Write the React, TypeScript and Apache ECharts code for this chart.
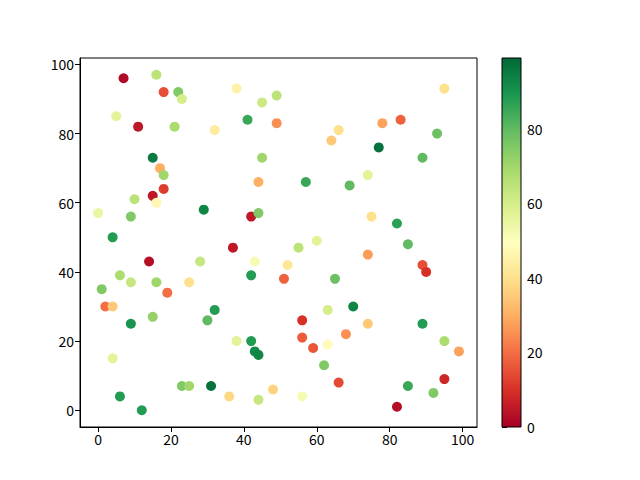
import React, { useEffect, useRef } from "react";
import * as echarts from "echarts";

const xs = [7,16,18,22,23,38,45,49,5,11,21,32,41,49,15,45,17,18,44,18,15,10,16,0,9,29,42,44,4,
  95,66,64,78,83,93,77,89,57,69,74,75,82,60,85,
  37,14,28,43,52,6,9,16,25,42,51,1,19,2,4,32,30,9,15,38,42,43,44,4,23,25,31,6,12,36,44,48,
  55,74,89,90,65,63,70,56,74,89,56,68,59,63,95,99,62,66,85,95,92,82,56];
const ys = [96,97,92,92,90,93,89,91,85,82,82,81,84,83,73,73,70,68,66,64,62,61,60,57,56,58,56,57,50,
  93,81,78,83,84,80,76,73,66,65,68,56,54,49,48,
  47,43,43,43,42,39,37,37,37,39,38,35,34,30,30,29,26,25,27,20,20,17,16,15,7,7,7,4,0,4,3,6,
  47,45,42,40,38,29,30,26,25,25,21,22,18,19,20,17,13,8,7,9,5,1,4];
const cs = [2,65,15,75,60,45,62,65,57,5,68,43,85,25,95,70,30,70,30,12,5,65,47,55,75,93,5,75,88,
  40,40,35,28,18,78,97,80,85,80,57,40,87,57,80,
  5,3,63,52,42,68,63,70,40,88,18,75,20,20,35,88,80,90,72,57,88,92,93,57,75,70,97,88,88,38,63,37,
  65,27,15,10,78,60,93,10,35,88,17,25,16,48,68,28,75,14,85,8,75,3,52];

const xTicks = [0, 20, 40, 60, 80, 100];
const yTicks = [0, 20, 40, 60, 80, 100];
const cTicks = [0, 20, 40, 60, 80];
const cMin = 0;
const cMax = 99;

const RdYlGn = ["#a50026","#d73027","#f46d43","#fdae61","#fee08b","#ffffbf","#d9ef8b","#a6d96a","#66bd63","#1a9850","#006837"];

const font = "Noto Sans CJK SC";

export default function App() {
  const ref = useRef<HTMLDivElement>(null);
  useEffect(() => {
    const chart = echarts.init(ref.current!, null, { renderer: "svg" });
    const stops = RdYlGn.map((c, i) => ({ offset: i / (RdYlGn.length - 1), color: c }));
    const axisCommon = {
      splitLine: { show: false },
      axisLine: { show: true, onZero: false, lineStyle: { color: "#000", width: 1 } },
    };
    chart.setOption({
      animation: false,
      backgroundColor: "#fff",
      grid: [
        { left: 80, top: 58, width: 397, height: 369, show: true, borderColor: "#000", borderWidth: 1, backgroundColor: "transparent" },
        { left: 502, top: 58, width: 19, height: 369, show: false },
      ],
      xAxis: [
        {
          gridIndex: 0, type: "value", min: -4.95, max: 103.95, ...axisCommon,
          axisTick: { show: true, length: 5, customValues: xTicks, lineStyle: { color: "#000" } },
          axisLabel: { customValues: xTicks, color: "#000", fontSize: 14, fontFamily: font, margin: 5 },
        },
        { gridIndex: 1, type: "value", min: 0, max: 1, show: false },
      ],
      yAxis: [
        {
          gridIndex: 0, type: "value", min: -4.85, max: 101.85, ...axisCommon,
          axisTick: { show: true, length: 5, customValues: yTicks, lineStyle: { color: "#000" } },
          axisLabel: { customValues: yTicks, color: "#000", fontSize: 14, fontFamily: font, margin: 6 },
        },
        {
          gridIndex: 1, type: "value", min: cMin, max: cMax, position: "right",
          splitLine: { show: false },
          axisLine: { show: false },
          axisTick: { show: true, length: 5, customValues: cTicks, lineStyle: { color: "#000" } },
          axisLabel: { customValues: cTicks, color: "#000", fontSize: 14, fontFamily: font, margin: 6 },
        },
      ],
      visualMap: {
        show: false, type: "continuous", min: cMin, max: cMax, dimension: 2, seriesIndex: 0,
        inRange: { color: RdYlGn },
      },
      series: [
        {
          type: "scatter", xAxisIndex: 0, yAxisIndex: 0, symbolSize: 10,
          data: xs.map((x, i) => [x, ys[i], cs[i]]),
          itemStyle: { opacity: 1 },
        },
        {
          type: "custom", xAxisIndex: 1, yAxisIndex: 1, silent: true,
          data: [[0, cMin]],
          renderItem: (_p: any, api: any) => {
            const p0 = api.coord([0, cMin]);
            const p1 = api.coord([1, cMax]);
            return {
              type: "rect",
              shape: { x: p0[0], y: p1[1], width: p1[0] - p0[0], height: p0[1] - p1[1] },
              style: {
                fill: new echarts.graphic.LinearGradient(0, 1, 0, 0, stops),
                stroke: "#000", lineWidth: 1,
              },
            };
          },
        },
      ],
    });
    return () => chart.dispose();
  }, []);
  return <div ref={ref} style={{ position: "fixed", left: 0, top: 0, width: 640, height: 480 }} />;
}
